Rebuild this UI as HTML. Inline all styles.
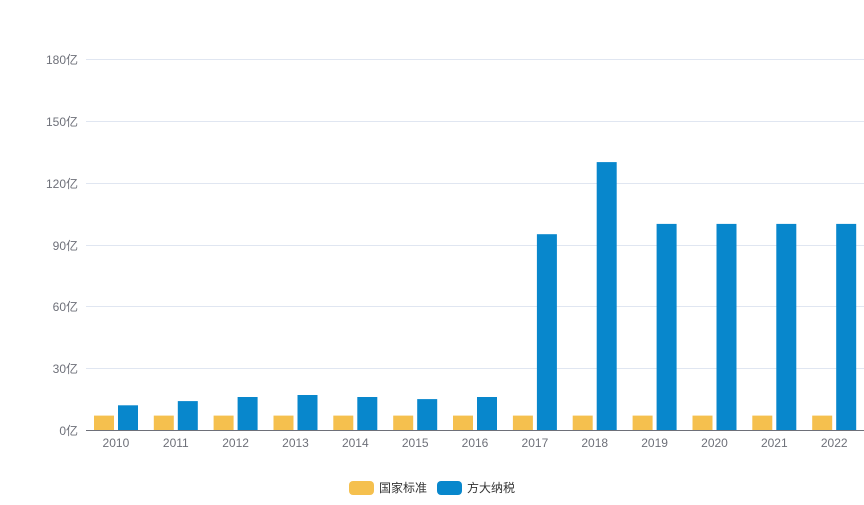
<!DOCTYPE html>
<html><head><meta charset="utf-8"><style>
body{margin:0;background:#fff;}
svg text{font-family:"Liberation Sans","Noto Sans CJK SC",sans-serif;font-size:12px;fill:#6e7079;}
</style></head><body>
<svg width="864" height="500" xmlns="http://www.w3.org/2000/svg">
<g stroke="#e0e6f1" stroke-width="1">
<line x1="86" x2="864" y1="59.5" y2="59.5"/>
<line x1="86" x2="864" y1="121.5" y2="121.5"/>
<line x1="86" x2="864" y1="183.5" y2="183.5"/>
<line x1="86" x2="864" y1="245.5" y2="245.5"/>
<line x1="86" x2="864" y1="306.5" y2="306.5"/>
<line x1="86" x2="864" y1="368.5" y2="368.5"/>
</g>
<g text-anchor="end">
<text x="78" y="64">180亿</text>
<text x="78" y="126">150亿</text>
<text x="78" y="188">120亿</text>
<text x="78" y="250">90亿</text>
<text x="78" y="311">60亿</text>
<text x="78" y="373">30亿</text>
<text x="78" y="435">0亿</text>
</g>
<g fill="#f5c04e">
<rect x="94" y="415.6" width="20" height="14.4"/>
<rect x="153.8" y="415.6" width="20" height="14.4"/>
<rect x="213.6" y="415.6" width="20" height="14.4"/>
<rect x="273.5" y="415.6" width="20" height="14.4"/>
<rect x="333.3" y="415.6" width="20" height="14.4"/>
<rect x="393.2" y="415.6" width="20" height="14.4"/>
<rect x="453" y="415.6" width="20" height="14.4"/>
<rect x="512.9" y="415.6" width="20" height="14.4"/>
<rect x="572.7" y="415.6" width="20" height="14.4"/>
<rect x="632.6" y="415.6" width="20" height="14.4"/>
<rect x="692.5" y="415.6" width="20" height="14.4"/>
<rect x="752.3" y="415.6" width="20" height="14.4"/>
<rect x="812.2" y="415.6" width="20" height="14.4"/>
</g>
<g fill="#0887cc">
<rect x="118" y="405.3" width="20" height="24.7"/>
<rect x="177.8" y="401.1" width="20" height="28.9"/>
<rect x="237.6" y="397" width="20" height="33"/>
<rect x="297.5" y="395" width="20" height="35"/>
<rect x="357.3" y="397" width="20" height="33"/>
<rect x="417.2" y="399.1" width="20" height="30.9"/>
<rect x="477" y="397" width="20" height="33"/>
<rect x="536.9" y="234.2" width="20" height="195.8"/>
<rect x="596.7" y="162.1" width="20" height="267.9"/>
<rect x="656.6" y="223.9" width="20" height="206.1"/>
<rect x="716.5" y="223.9" width="20" height="206.1"/>
<rect x="776.3" y="223.9" width="20" height="206.1"/>
<rect x="836.2" y="223.9" width="20" height="206.1"/>
</g>
<line x1="86" x2="864" y1="430.5" y2="430.5" stroke="#6e7079" stroke-width="1"/>
<g text-anchor="middle">
<text x="115.9" y="447">2010</text>
<text x="175.8" y="447">2011</text>
<text x="235.6" y="447">2012</text>
<text x="295.5" y="447">2013</text>
<text x="355.3" y="447">2014</text>
<text x="415.2" y="447">2015</text>
<text x="475" y="447">2016</text>
<text x="534.9" y="447">2017</text>
<text x="594.7" y="447">2018</text>
<text x="654.6" y="447">2019</text>
<text x="714.5" y="447">2020</text>
<text x="774.3" y="447">2021</text>
<text x="834.2" y="447">2022</text>
</g>
<rect x="349" y="481" width="25" height="14" rx="4" fill="#f5c04e"/>
<text x="379" y="492" style="fill:#333">国家标准</text>
<rect x="437" y="481" width="25" height="14" rx="4" fill="#0887cc"/>
<text x="467" y="492" style="fill:#333">方大纳税</text>
</svg>
</body></html>
